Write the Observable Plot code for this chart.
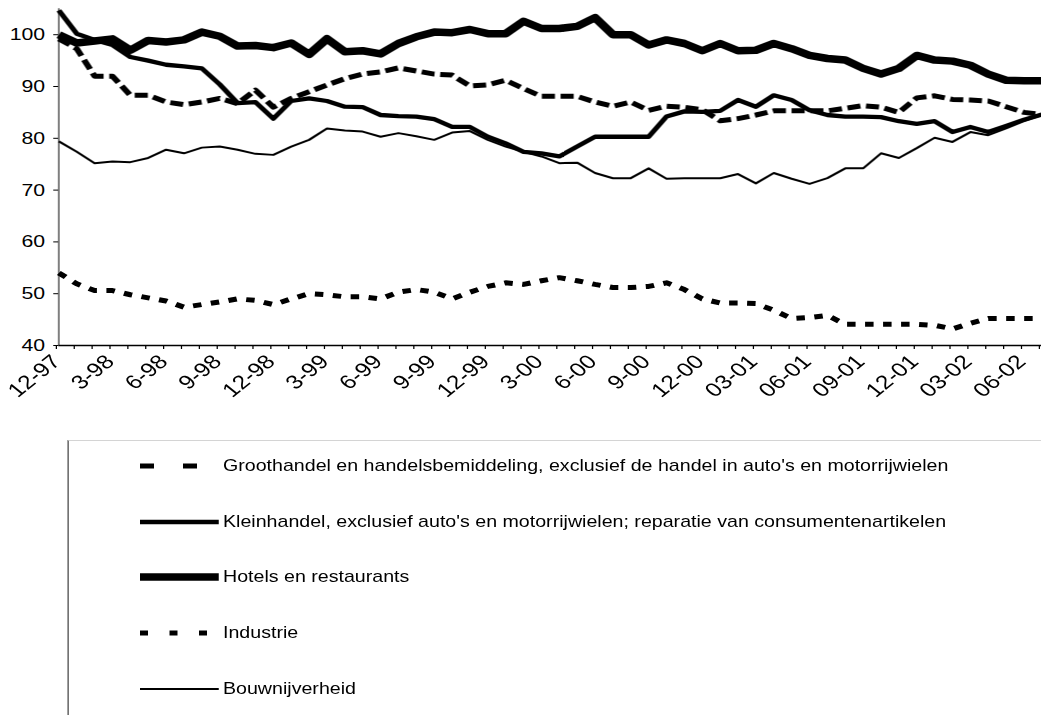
<!DOCTYPE html>
<html><head><meta charset="utf-8">
<script src="https://cdn.jsdelivr.net/npm/d3@7"></script>
<script src="https://cdn.jsdelivr.net/npm/@observablehq/plot@0.6"></script>
<style>
html,body{margin:0;padding:0;background:#fff;width:1041px;height:715px;overflow:hidden}
#wrap{position:relative;width:833px;height:715px;transform:scaleX(1.25);transform-origin:0 0;font-family:"Liberation Sans",Arial,sans-serif;color:#000}
#chart svg{display:block;max-width:none}
#legend{position:absolute;left:54.4px;top:440px;width:900px;height:300px;border-left:1px solid #444;border-top:1px solid #d4d4d4}
.row{position:absolute;left:0;height:30px;display:flex;align-items:center}
.row svg{margin-left:56.6px;display:block}
.row span{font-size:15.7px;margin-left:3px;white-space:nowrap}
</style></head><body><div id="wrap"><div id="chart"></div><div id="legend"></div></div>
<script>
const months = ["1997-12",
 "1998-01","1998-02","1998-03","1998-04","1998-05","1998-06","1998-07","1998-08","1998-09","1998-10","1998-11","1998-12",
 "1999-01","1999-02","1999-03","1999-04","1999-05","1999-06","1999-07","1999-08","1999-09","1999-10","1999-11","1999-12",
 "2000-01","2000-02","2000-03","2000-04","2000-05","2000-06","2000-07","2000-08","2000-09","2000-10","2000-11","2000-12",
 "2001-01","2001-02","2001-03","2001-04","2001-05","2001-06","2001-07","2001-08","2001-09","2001-10","2001-11","2001-12",
 "2002-01","2002-02","2002-03","2002-04","2002-05","2002-06","2002-07"];
const tickLabels = ["12-97","3-98","6-98","9-98","12-98","3-99","6-99","9-99","12-99","3-00","6-00","9-00","12-00","03-01","06-01","09-01","12-01","03-02","06-02"];
const yTicks = [40,50,60,70,80,90,100];

const seriesNames = [
 "Groothandel en handelsbemiddeling, exclusief de handel in auto's en motorrijwielen",
 "Kleinhandel, exclusief auto's en motorrijwielen; reparatie van consumentenartikelen",
 "Hotels en restaurants",
 "Industrie",
 "Bouwnijverheid"];

const groothandel = [99.2,97.3,92,92,88.3,88.3,87,86.5,87,87.7, 86.7,89.3,86,87.7,89,90.3,91.5,92.4,92.8,93.6, 93,92.4,92.2,90.1,90.3,91.2,89.6,88.1,88.1,88.1, 87,86.2,87,85.4,86.2,86,85.5,83.4,83.8,84.5, 85.3,85.3,85.3,85.3,85.8,86.3,86,85,87.8,88.2, 87.5,87.4,87.2,86.1,85,84.6];
const kleinhandel = [104.7,100.2,99,98,95.7,95,94.2,93.9,93.5,90.4, 86.8,87,83.8,87.2,87.7,87.2,86.1,86,84.5,84.3, 84.2,83.7,82.2,82.2,80.3,79,77.4,77.1,76.5,78.4, 80.3,80.3,80.3,80.3,84.2,85.2,85.1,85.3,87.4,86.1, 88.3,87.4,85.4,84.5,84.2,84.2,84.1,83.3,82.8,83.3, 81.2,82.2,81.2,82.4,83.6,84.6];
const hotels = [100,98.4,98.8,99.2,97,98.9,98.6,99,100.5,99.7, 97.8,97.9,97.5,98.4,96.2,99.2,96.7,96.9,96.3,98.3, 99.6,100.5,100.4,101,100.2,100.2,102.6,101.2,101.2,101.6, 103.3,100,100,98,99,98.3,96.9,98.3,96.9,97, 98.3,97.3,96,95.4,95.1,93.5,92.4,93.5,96,95.1, 94.9,94.1,92.4,91.2,91.1,91.1];
const industrie = [54,51.9,50.6,50.6,49.8,49.2,48.6,47.4,47.9,48.4, 49,48.7,47.9,49,50,49.8,49.4,49.4,49,50.3, 50.8,50.3,49,50.3,51.4,52.1,51.8,52.5,53.1,52.5, 51.8,51.2,51.2,51.4,52.1,50.8,49,48.2,48.2,48.1, 46.8,45.2,45.4,45.8,44.1,44.1,44.1,44.1,44.1,43.9, 43.2,44.3,45.2,45.2,45.2,45.2];
const bouw = [79.4,77.4,75.2,75.5,75.4,76.2,77.8,77.1,78.2,78.4, 77.8,77,76.8,78.4,79.7,81.9,81.5,81.3,80.3,81, 80.4,79.7,81.1,81.4,79.7,78.4,77.4,76.5,75.2,75.3, 73.3,72.3,72.3,74.2,72.2,72.3,72.3,72.3,73.1,71.3, 73.3,72.2,71.2,72.3,74.2,74.2,77.1,76.2,78.1,80.1, 79.3,81.2,80.6,81.9,83.3,84.5];

const styles = [
 {w:5, dash:"10.5,4.5", legDash:"11.2,23.2"},
 {w:4.3, dash:null, legDash:null},
 {w:7.5, dash:null, legDash:null},
 {w:5, dash:"6.8,7.6", legDash:"6.4,17.2"},
 {w:2, dash:null, legDash:null}
];
const allValues = [groothandel, kleinhandel, hotels, industrie, bouw];

const monthIndex = months.map((m, i) => i);
const labelFor = {};
tickLabels.forEach((t, k) => { labelFor[k * 3] = t; });

const rows = [];
allValues.forEach((vals, s) => vals.forEach((v, i) => rows.push({series: s, idx: i, month: months[i], value: v})));

const order = [3, 4, 0, 1, 2];
const lineMarks = order.map(s => Plot.lineY(rows.filter(r => r.series === s), {
  x: "idx", y: "value", stroke: "#000", strokeWidth: styles[s].w,
  strokeDasharray: styles[s].dash || undefined, strokeLinejoin: "round", strokeLinecap: "butt"
}));

const chart = Plot.plot({
  width: 833, height: 420,
  marginLeft: 46.6, marginRight: 0, marginTop: 8.3, marginBottom: 75,
  style: {fontFamily: "'Liberation Sans', Arial, sans-serif", fontSize: "17px", color: "#000", background: "#fff", overflow: "visible"},
  x: {type: "linear", domain: [0, months.length - 1], range: [46.6, 833]},
  y: {domain: [40, 105], range: [345, 8.3]},
  marks: [
    Plot.axisY({ticks: yTicks, tickSize: 4, tickPadding: 7, label: null, fontSize: 17}),
    Plot.axisX({ticks: monthIndex, tickSize: 4, tickRotate: -45, tickPadding: 9, dx: -2, label: null, fontSize: 19.5,
      tickFormat: d => labelFor[d] ?? ""}),
    Plot.ruleY([40], {stroke: "#000", strokeWidth: 1.5}),
    Plot.ruleX([0], {stroke: "#333", strokeWidth: 1}),
    ...lineMarks
  ]
});
document.getElementById("chart").appendChild(chart);

const legend = d3.select("#legend");
const rowY = [25, 80.7, 135.5, 191.7, 248.3];
seriesNames.forEach((name, s) => {
  const row = legend.append("div").attr("class", "row").style("top", (rowY[s] - 15) + "px");
  const sv = row.append("svg").attr("width", 63.4).attr("height", 12);
  sv.append("line").attr("x1", 0).attr("x2", 63.4).attr("y1", 6).attr("y2", 6)
    .attr("stroke", "#000").attr("stroke-width", styles[s].w)
    .attr("stroke-dasharray", styles[s].legDash);
  row.append("span").text(name);
});
</script>
</body></html>
